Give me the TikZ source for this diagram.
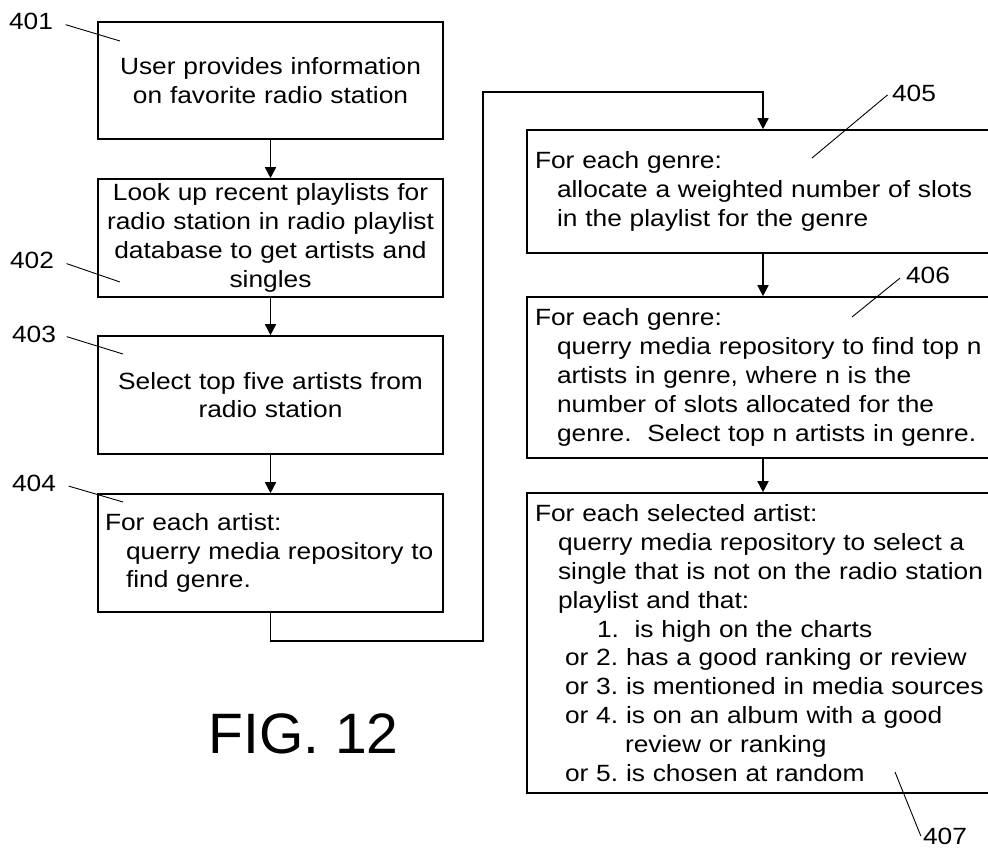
\documentclass[tikz,border=0pt]{standalone}
\usepackage{fontspec}
\setmainfont{Liberation Sans}[FakeStretch=1.12]
\newfontfamily\figfont{Liberation Sans}
\usepackage{tikz}
\usetikzlibrary{positioning, arrows.meta}
\frenchspacing

\begin{document}
\begin{tikzpicture}[x=1pt, y=-1pt,
    stepbox/.style={draw, line width=1.6pt, inner ysep=3pt, font=\fontsize{23.5}{28.8}\selectfont},
    leftbox/.style={stepbox, inner xsep=7pt, text width=331pt, minimum height=118pt},
    rightbox/.style={stepbox, inner xsep=8pt, text width=456pt},
    flow/.style={line width=1.5pt, -{Triangle[width=11pt,length=11pt]}},
    refnum/.style={font=\fontsize{23.5}{28.8}\selectfont, inner sep=2pt},
    leader/.style={line width=0.9pt}]
    \useasboundingbox (0,0) rectangle (988,849);

    % left column
    \node[leftbox, align=center, minimum height=117pt] (b401) at (270.5,80.5) {
        User provides information\\
        on favorite radio station};
    \node[leftbox, align=center] (b402) at (270.5,238) {
        Look up recent playlists for\\
        radio station in radio playlist\\
        database to get artists and\\
        singles};
    \node[leftbox, align=center] (b403) at (270.5,395) {
        Select top five artists from\\
        radio station};
    \node[leftbox, align=left] (b404) at (270.5,553) {
        For each artist:\\
        \hspace*{21pt}querry media repository to\\
        \hspace*{21pt}find genre.};

    % right column
    \node[rightbox, align=left, minimum height=123pt] (b405) at (763,191.5) {
        For each genre:\\
        \hspace*{22pt}allocate a weighted number of slots\\
        \hspace*{22pt}in the playlist for the genre};
    \node[rightbox, align=left, minimum height=161pt] (b406) at (763,377.5) {
        For each genre:\\
        \hspace*{22pt}querry media repository to find top n\\
        \hspace*{22pt}artists in genre, where n is the\\
        \hspace*{22pt}number of slots allocated for the\\
        \hspace*{22pt}genre.\ \ Select top n artists in genre.};
    \node[rightbox, align=left, minimum height=300pt] (b407) at (763,643) {
        For each selected artist:\\
        \hspace*{23pt}querry media repository to select a\\
        \hspace*{23pt}single that is not on the radio station\\
        \hspace*{23pt}playlist and that:\\
        \hspace*{62pt}1.\ \ is high on the charts\\
        \hspace*{30pt}or 2. has a good ranking or review\\
        \hspace*{30pt}or 3. is mentioned in media sources\\
        \hspace*{30pt}or 4. is on an album with a good\\
        \hspace*{90pt}review or ranking\\
        \hspace*{30pt}or 5. is chosen at random};

    % connectors
    \draw[flow] (b401.south) -- (b402.north);
    \draw[flow] (b402.south) -- (b403.north);
    \draw[flow] (b403.south) -- (b404.north);
    \coordinate (bendA) at (483,641);
    \coordinate (bendB) at (483,92);
    \draw[flow] (b404.south) |- (bendA) -- (bendB) -| (b405.north);
    \draw[flow] (b405.south) -- (b406.north);
    \draw[flow] (b406.south) -- (b407.north);

    % reference numerals
    \node[refnum] (l401) at (31,21.5) {401};
    \node[refnum] (l402) at (32,260) {402};
    \node[refnum] (l403) at (34,334) {403};
    \node[refnum] (l404) at (34,483) {404};
    \node[refnum] (l405) at (914,93) {405};
    \node[refnum] (l406) at (928,275) {406};
    \node[refnum] (l407) at (945,836) {407};
    \coordinate (t401) at (120,41);
    \coordinate (t402) at (120,282);
    \coordinate (t403) at (123,354);
    \coordinate (t404) at (123,502);
    \coordinate (t405) at (812,158);
    \coordinate (t406) at (852,317);
    \coordinate (t407) at (895,772);
    \draw[leader, shorten <=11pt] (l401.east) -- (t401);
    \draw[leader, shorten <=11pt] (l402.east) -- (t402);
    \draw[leader, shorten <=9pt] (l403.east) -- (t403);
    \draw[leader, shorten <=11pt] (l404.east) -- (t404);
    \draw[leader, shorten <=3pt] (l405.west) -- (t405);
    \draw[leader, shorten <=5pt] (l406.west) -- (t406);
    \draw[leader] (l407.west) -- (t407);

    \node[font=\figfont\fontsize{57}{60}\selectfont] (figcap) at (303.5,733.5) {FIG. 12};
\end{tikzpicture}
\end{document}
